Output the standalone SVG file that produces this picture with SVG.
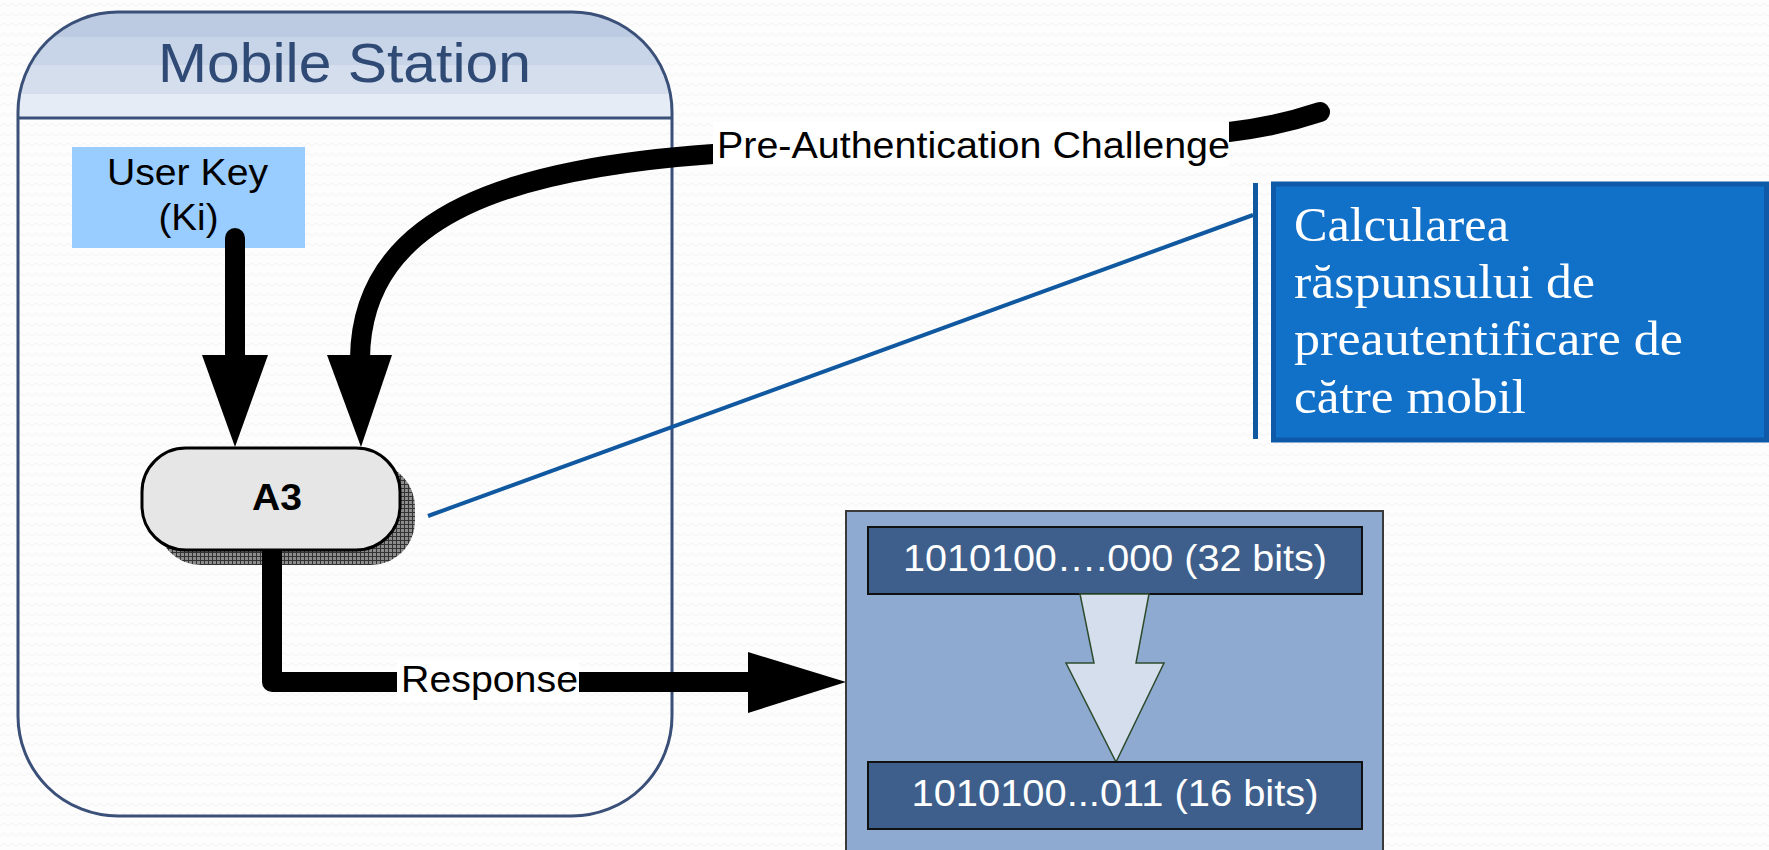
<svg xmlns="http://www.w3.org/2000/svg" width="1769" height="850" viewBox="0 0 1769 850">
<defs>
<style>
.sans{font-family:"Liberation Sans",Arial,sans-serif;}
.serif{font-family:"Liberation Serif","Times New Roman",serif;}
.blk{fill:#000;}
.wire{fill:none;stroke:#000;stroke-width:20;}
.bits{fill:#3e5f8b;stroke:#111;stroke-width:2;}
.bitt{font-size:37px;fill:#fff;text-anchor:middle;}
.ct{font-size:48px;fill:#fff;}
</style>
<pattern id="bg" width="8" height="10" patternUnits="userSpaceOnUse"><rect width="8" height="10" fill="#fdfdfd"/><polyline points="0,6 4,3 8,6" fill="none" stroke="#f3f3f3" stroke-width="1"/></pattern>
<pattern id="hatch" width="4" height="4" patternUnits="userSpaceOnUse"><rect width="4" height="4" fill="#8c8c8c"/><path d="M0 0.5 H4 M0.5 0 V4" stroke="#333" stroke-width="1"/></pattern>
<linearGradient id="hdr" gradientUnits="userSpaceOnUse" x1="0" y1="12" x2="0" y2="118">
<stop offset="0" stop-color="#bccbe1"/><stop offset="0.236" stop-color="#bccbe1"/>
<stop offset="0.236" stop-color="#c8d4e7"/><stop offset="0.5" stop-color="#c8d4e7"/>
<stop offset="0.5" stop-color="#d4deed"/><stop offset="0.773" stop-color="#d4deed"/>
<stop offset="0.773" stop-color="#e6ecf6"/><stop offset="1" stop-color="#e6ecf6"/>
</linearGradient>
</defs>
<rect width="1769" height="850" fill="url(#bg)"/>

<g id="mobile-station">
<path d="M18 118 L18 112 A100 100 0 0 1 118 12 L572 12 A100 100 0 0 1 672 112 L672 118 Z" fill="url(#hdr)"/>
<rect x="18" y="12" width="654" height="804" rx="100" ry="100" fill="none" stroke="#3a5078" stroke-width="3"/>
<line x1="18" y1="118" x2="672" y2="118" stroke="#3a5078" stroke-width="3"/>
<text class="sans" x="344.5" y="82" font-size="56" fill="#2f4a75" text-anchor="middle" textLength="373" lengthAdjust="spacingAndGlyphs">Mobile Station</text>
</g>

<g id="user-key">
<rect x="72" y="147" width="233" height="101" fill="#99ccff"/>
<text class="sans" x="187.5" y="185" font-size="36" text-anchor="middle" textLength="161" lengthAdjust="spacingAndGlyphs">User Key</text>
<text class="sans" x="188.5" y="230" font-size="36" text-anchor="middle" textLength="60" lengthAdjust="spacingAndGlyphs">(Ki)</text>
</g>

<g id="a3">
<rect x="157" y="463" width="258" height="102" rx="44" ry="44" fill="url(#hatch)"/>
<rect x="142" y="448" width="258" height="102" rx="44" ry="44" fill="#e6e6e6" stroke="#000" stroke-width="3"/>
<text class="sans" x="277" y="510" font-size="37" font-weight="bold" text-anchor="middle" textLength="50" lengthAdjust="spacingAndGlyphs">A3</text>
</g>

<g id="connectors">
<path class="wire" d="M235 238 L235 358" stroke-linecap="round"/>
<polygon class="blk" points="202,355 268,355 235,447"/>
<path class="wire" d="M1320 112 Q1275 127 1229 132 L713 154 C520 168 362 210 360 358" stroke-linecap="round"/>
<polygon class="blk" points="327,355 392,355 361,447"/>
<path class="wire" d="M272 550 L272 682 L752 682" stroke-linejoin="round"/>
<polygon class="blk" points="748,652 846,682 748,713"/>
<line x1="428" y1="516" x2="1253" y2="215" stroke="#1058a0" stroke-width="4"/>
<rect x="713" y="122" width="516" height="44" fill="#fff"/>
<text class="sans" x="717" y="158" font-size="36" textLength="513" lengthAdjust="spacingAndGlyphs">Pre-Authentication Challenge</text>
<rect x="397" y="660" width="182" height="42" fill="#fff"/>
<text class="sans" x="401" y="692" font-size="37" textLength="177" lengthAdjust="spacingAndGlyphs">Response</text>
</g>

<g id="callout">
<rect x="1253" y="183" width="5" height="256" fill="#1058a0"/>
<rect x="1273.5" y="184" width="493" height="256" fill="#1170c8" stroke="#0f5aa8" stroke-width="5"/>
<text class="serif ct" x="1294" y="241" textLength="215" lengthAdjust="spacingAndGlyphs">Calcularea</text>
<text class="serif ct" x="1294" y="298" textLength="301" lengthAdjust="spacingAndGlyphs">răspunsului de</text>
<text class="serif ct" x="1294" y="355" textLength="389" lengthAdjust="spacingAndGlyphs">preautentificare de</text>
<text class="serif ct" x="1294" y="413" textLength="232" lengthAdjust="spacingAndGlyphs">către mobil</text>
</g>

<g id="bits-panel">
<rect x="846" y="511" width="537" height="345" fill="#8eaad0" stroke="#3a3a3a" stroke-width="2"/>
<g id="bits32">
<rect class="bits" x="868" y="527" width="494" height="67"/>
<text class="sans bitt" x="1115" y="571" textLength="424" lengthAdjust="spacingAndGlyphs">1010100….000 (32 bits)</text>
</g>
<polygon points="1080,594 1149,594 1136,663 1164,663 1116,762 1066,663 1094,663" fill="#d4deec" stroke="#2e4b2e" stroke-width="1.5"/>
<g id="bits16">
<rect class="bits" x="868" y="762" width="494" height="67"/>
<text class="sans bitt" x="1115" y="806" textLength="407" lengthAdjust="spacingAndGlyphs">1010100...011 (16 bits)</text>
</g>
</g>
</svg>
